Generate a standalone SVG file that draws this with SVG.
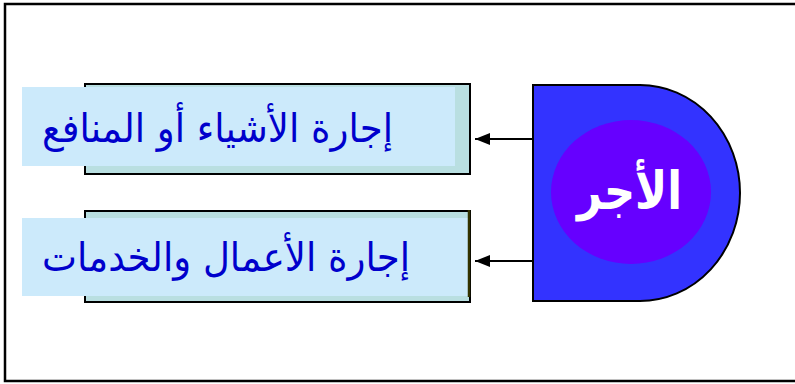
<svg xmlns="http://www.w3.org/2000/svg" width="795" height="384" viewBox="0 0 795 384">
  <style>
    .label { font-family: "DejaVu Sans", "Liberation Sans", sans-serif; fill: #0000cc; font-size: 40px; }
    .back { fill: #b9dfe1; stroke: #000; stroke-width: 2; }
    .front { fill: #cceafb; }
    .link { stroke: #000; stroke-width: 2; fill: none; marker-end: url(#head); }
  </style>
  <defs>
    <marker id="head" markerWidth="16" markerHeight="12" refX="15" refY="6" orient="auto" markerUnits="userSpaceOnUse">
      <path d="M0,0 L15,6 L0,12 Z" fill="#000"/>
    </marker>
  </defs>
  <rect x="0" y="0" width="795" height="384" fill="#fff"/>
  <!-- outer frame -->
  <rect x="5" y="4" width="800" height="377" fill="none" stroke="#000" stroke-width="2.5"/>

  <g id="node-objects">
    <rect class="back" x="85" y="84" width="385" height="90"/>
    <rect class="front" x="22" y="87" width="433" height="79"/>
    <text class="label" x="393" y="142" direction="rtl" text-anchor="start" textLength="351" lengthAdjust="spacingAndGlyphs">إجارة الأشياء أو المنافع</text>
  </g>

  <g id="node-services">
    <rect class="back" x="85" y="211" width="385" height="91"/>
    <rect class="front" x="22" y="218" width="446" height="78"/>
    <line x1="469" y1="210" x2="469" y2="297" stroke="#333300" stroke-width="2.5"/>
    <text class="label" x="410" y="271" direction="rtl" text-anchor="start" textLength="368" lengthAdjust="spacingAndGlyphs">إجارة الأعمال والخدمات</text>
  </g>

  <g id="node-wage">
    <path d="M533,85 L640,85 A100,108 0 0 1 640,301 L533,301 Z" fill="#3333ff" stroke="#000" stroke-width="2"/>
    <ellipse cx="631" cy="192" rx="80" ry="72" fill="#6600ff"/>
    <text x="682" y="209" text-anchor="start" direction="rtl" textLength="105" lengthAdjust="spacingAndGlyphs" font-family="DejaVu Sans, sans-serif" font-weight="bold" font-size="52" fill="#fff">الأجر</text>
  </g>

  <g id="connectors">
    <line class="link" x1="533" y1="139" x2="475" y2="139"/>
    <line class="link" x1="533" y1="261" x2="475" y2="261"/>
  </g>
</svg>
